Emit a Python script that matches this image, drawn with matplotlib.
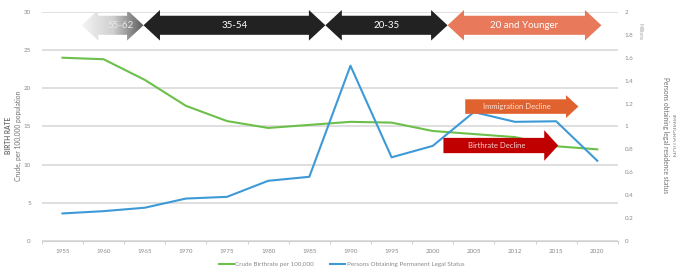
import matplotlib
matplotlib.use("Agg")
import matplotlib.pyplot as plt
import numpy as np
from matplotlib.patches import Polygon

plt.rcParams['font.family'] = ['Lato', 'DejaVu Sans']

years = ['1955', '1960', '1965', '1970', '1975', '1980', '1985', '1990',
         '1995', '2000', '2005', '2012', '2015', '2020']
birthrate = [24.0, 23.8, 21.1, 17.7, 15.7, 14.8, 15.2, 15.6, 15.5, 14.4,
             14.0, 13.6, 12.4, 12.0]
immigration = [0.24, 0.26, 0.29, 0.37, 0.385, 0.525, 0.56, 1.53, 0.73, 0.83,
               1.125, 1.04, 1.045, 0.70]
left_ticks = [0, 5, 10, 15, 20, 25, 30]
right_ticks = [0, 0.2, 0.4, 0.6, 0.8, 1, 1.2, 1.4, 1.6, 1.8, 2]
right_labels = ['0', '0.2', '0.4', '0.6', '0.8', '1', '1.2', '1.4', '1.6', '1.8', '2']
gen_labels = ['55-62', '35-54', '20-35', '20 and Younger']

GREEN = '#6cc04a'
BLUE = '#3d9ad6'
TXT = '#8a8a8a'

fig = plt.figure(figsize=(6.76, 2.71), dpi=100)
ax = fig.add_axes([0.062, 0.111, 0.852, 0.845])
ax2 = ax.twinx()

x = np.arange(len(years))
ax.plot(x, birthrate, color=GREEN, lw=1.5, label='Crude Birthrate per 100,000')
ax2.plot(x, immigration, color=BLUE, lw=1.5, label='Persons Obtaining Permanent Legal Status')

ax.set_xlim(-0.5, len(years) - 0.5)
ax.set_ylim(0, 30)
ax2.set_ylim(0, 2)
ax.set_yticks(left_ticks)
ax.set_yticklabels([str(t) for t in left_ticks])
ax2.set_yticks(right_ticks)
ax2.set_yticklabels(right_labels)
ax.set_xticks(x)
ax.set_xticklabels(years)
ax.set_xticks(np.arange(len(years) + 1) - 0.5, minor=True)

ax.grid(axis='y', color='#d6d6d6', lw=1.1)
ax.set_axisbelow(True)
for a in (ax, ax2):
    for s in a.spines.values():
        s.set_visible(False)
ax.spines['bottom'].set_visible(True)
ax.spines['bottom'].set_color('#d0d0d0')
ax.tick_params(axis='x', which='major', length=0, labelsize=4.5, colors=TXT, pad=6)
ax.tick_params(axis='x', which='minor', length=2, color='#c8c8c8')
ax.tick_params(axis='y', length=0, labelsize=4.5, colors=TXT, pad=8)
ax2.tick_params(axis='y', length=0, labelsize=4.5, colors=TXT, pad=5)

# axis titles
fig.text(0.012, 0.5, 'BIRTH RATE', rotation=90, ha='center', va='center',
         fontsize=4.8, fontweight='bold', color='#707070')
fig.text(0.027, 0.5, 'Crude, per 100,000 population', rotation=90, ha='center',
         va='center', fontsize=4.8, color='#707070')
fig.text(0.996, 0.5, 'IMMIGRATION', rotation=270, ha='center', va='center',
         fontsize=4.5, fontweight='bold', color='#a0a0a0')
fig.text(0.984, 0.5, 'Persons obtaining legal residence status', rotation=270,
         ha='center', va='center', fontsize=4.8, color='#707070')
fig.text(0.947, 0.885, 'Millions', rotation=270, ha='center', va='center',
         fontsize=3.5, color='#a0a0a0')

# legend
h1, l1 = ax.get_legend_handles_labels()
h2, l2 = ax2.get_legend_handles_labels()
leg = fig.legend(h1 + h2, l1 + l2, loc='lower center', bbox_to_anchor=(0.505, -0.005),
                 ncol=2, frameon=False, fontsize=4.5, handlelength=2.5,
                 columnspacing=2.5, handletextpad=0.2)
for t in leg.get_texts():
    t.set_color(TXT)


def dbl_arrow(x0, x1, yc, bh, hh, hl):
    return [(x0, yc), (x0 + hl, yc + hh), (x0 + hl, yc + bh), (x1 - hl, yc + bh),
            (x1 - hl, yc + hh), (x1, yc), (x1 - hl, yc - hh), (x1 - hl, yc - bh),
            (x0 + hl, yc - bh), (x0 + hl, yc - hh)]


def right_arrow(x0, x1, yc, bh, hh, hl):
    return [(x0, yc + bh), (x1 - hl, yc + bh), (x1 - hl, yc + hh), (x1, yc),
            (x1 - hl, yc - hh), (x1 - hl, yc - bh), (x0, yc - bh)]


# generation arrows (in left-axis data coords)
yc, bh, hh, hl = 28.25, 1.25, 2.0, 0.4
bounds = [0.47, 1.97, 6.39, 9.36, 13.1]
colors = [None, '#222222', '#222222', '#e8795a']
for i in range(4):
    pts = dbl_arrow(bounds[i], bounds[i + 1], yc, bh, hh, hl)
    if i == 0:
        poly = Polygon(pts, closed=True, facecolor='none', edgecolor='none',
                       transform=ax.transData)
        ax2.add_patch(poly)
        grad = np.linspace(0, 1, 256).reshape(1, -1)
        cmap = matplotlib.colors.LinearSegmentedColormap.from_list(
            'g', ['#f4f4f4', '#d0d0d0', '#5a5a5a'])
        im = ax.imshow(grad, extent=[bounds[0], bounds[1], yc - hh, yc + hh],
                       aspect='auto', cmap=cmap, zorder=10, clip_on=True)
        im.set_clip_path(Polygon(pts, closed=True, transform=ax.transData))
        tc = '#e8e8e8'
    else:
        ax2.add_patch(Polygon(pts, closed=True, facecolor=colors[i], edgecolor='none',
                              transform=ax.transData, zorder=5, clip_on=False))
        tc = 'white'
    ax2.text((bounds[i] + bounds[i + 1]) / 2 + (0.2 if i == 0 else 0), yc,
             gen_labels[i], ha='center', va='center', fontsize=7, color=tc,
             transform=ax.transData, zorder=11)
ax.set_xlim(-0.5, len(years) - 0.5)
ax.set_ylim(0, 30)

# decline arrows
ax2.add_patch(Polygon(right_arrow(9.79, 12.54, 17.6, 0.95, 1.5, 0.3), closed=True,
                      facecolor='#e0622f', edgecolor='none', transform=ax.transData,
                      zorder=6))
ax2.text(11.05, 17.6, 'Immigration Decline', ha='center', va='center', fontsize=5.5,
         color='#fbe0d6', transform=ax.transData, zorder=7)
ax2.add_patch(Polygon(right_arrow(9.26, 12.05, 12.5, 1.0, 2.0, 0.34), closed=True,
                      facecolor='#c00000', edgecolor='none', transform=ax.transData,
                      zorder=6))
ax2.text(10.55, 12.5, 'Birthrate Decline', ha='center', va='center', fontsize=5.5,
         color='#f6d0d0', transform=ax.transData, zorder=7)

fig.savefig('out.png', dpi=100)
